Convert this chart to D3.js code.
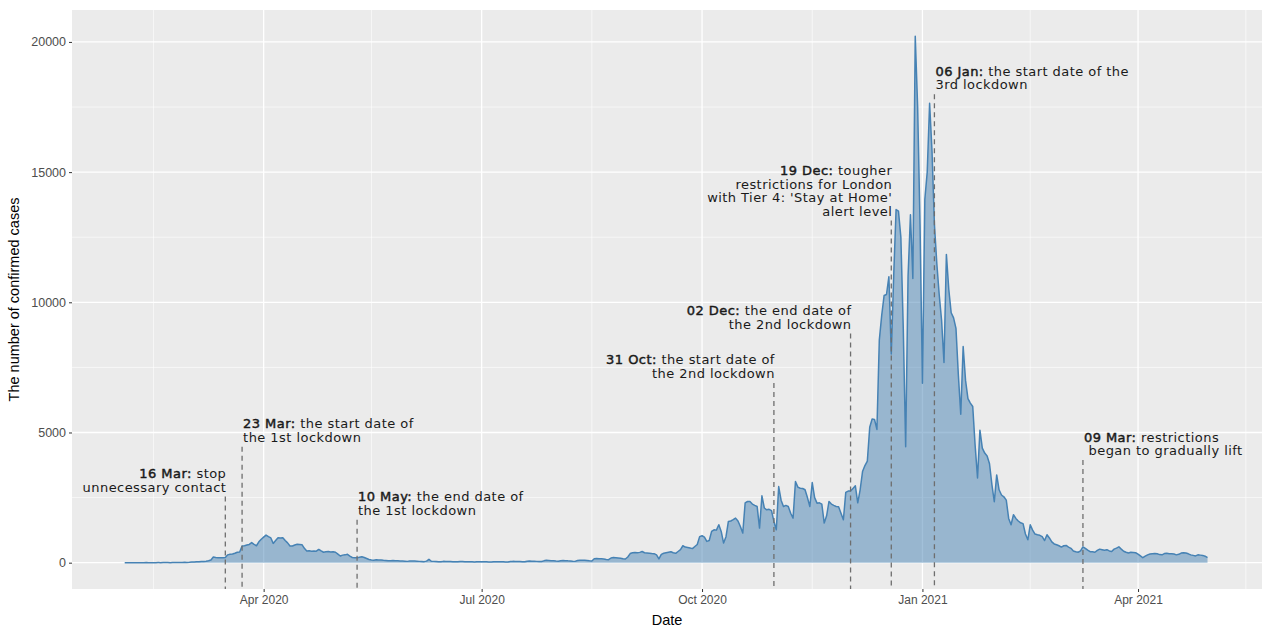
<!DOCTYPE html>
<html>
<head>
<meta charset="utf-8">
<script src="https://cdn.jsdelivr.net/npm/d3@7"></script>
<style>
  body { margin: 0; background: #fff; }
  .tick text { font-family: "Liberation Sans", Arial, sans-serif; }
</style>
</head>
<body>
<div class="chart"></div>
<script>
// daily confirmed cases, first day = startDate
const startDate = "2020-02-03";
const cases = [
  0,0,0,1,0,0,0,
  1,0,2,1,1,0,1,
  2,1,2,3,2,1,3,
  4,6,7,9,12,10,14,
  22,26,32,40,48,42,55,
  75,100,215,200,190,185,190,
  200,300,320,330,360,400,410,
  640,650,680,700,770,700,650,
  800,900,980,1060,1000,950,740,
  850,960,950,960,850,760,640,
  640,680,710,700,690,550,450,
  460,440,450,440,510,450,400,
  420,430,410,420,400,330,255,
  290,300,320,250,200,190,185,
  210,230,200,160,120,100,95,
  110,105,100,90,85,75,70,
  80,75,70,65,60,55,50,
  65,60,60,55,50,45,40,
  60,128,55,50,45,40,38,
  50,48,45,42,40,35,34,
  45,42,40,38,36,32,30,
  40,38,36,35,33,30,28,
  38,36,35,34,32,28,26,
  45,50,48,45,42,38,36,
  55,60,58,55,50,45,42,
  70,90,85,75,70,60,55,
  75,80,78,70,65,55,50,
  85,90,95,90,80,70,65,
  150,160,155,150,140,120,115,
  180,200,190,180,170,150,140,
  220,350,380,390,380,396,430,
  380,370,360,350,345,300,145,
  320,360,380,400,420,380,360,
  430,500,650,600,580,560,540,
  620,700,1000,1034,980,817,850,
  1200,1264,1250,1456,1200,753,1000,
  1583,1600,1650,1711,1600,1392,1136,
  2300,2350,2350,2250,2200,2158,1328,
  2567,2100,2030,2050,2000,1583,1264,
  2924,2400,2158,2200,2158,1900,1711,
  3116,2900,2860,2850,2800,2500,2158,
  3078,2500,2286,2300,2250,1520,1800,
  2350,2250,2200,2158,2150,1900,1647,
  2700,2750,2750,2850,2950,2300,2800,
  3500,3730,3900,5200,5515,5500,5117,
  8545,9500,10260,10300,10985,8016,11000,
  13560,13500,12500,9000,4455,11000,13360,
  10915,20215,17500,13000,6890,13950,15000,
  17645,15800,13000,11500,10300,9300,7690,
  11840,10500,9600,9400,9000,7200,5700,
  8300,7000,6300,6130,6000,4500,3255,
  5090,4400,4210,4100,3800,3000,2340,
  3370,2800,2600,2530,2400,1700,1455,
  1840,1700,1600,1530,1500,1100,880,
  1455,1250,1100,1070,1050,1000,850,
  1070,950,800,720,690,650,600,
  650,660,600,550,450,420,400,
  450,610,550,480,420,420,400,
  470,520,500,480,500,450,430,
  520,560,610,520,440,400,370,
  400,390,380,330,260,190,250,
  300,330,345,350,340,310,300,
  350,360,345,340,330,300,320,
  370,380,370,340,300,280,260,
  300,290,280,250,190
];

// events
const eventDates = ["2020-03-16","2020-03-23","2020-05-10","2020-10-31","2020-12-02","2020-12-19","2021-01-06","2021-03-09"];
const eventTops = [2540, 4455, 1647, 6905, 8800, 13140, 17990, 3945];
const eventLabels = [
  ["16 Mar: stop", "unnecessary contact"],
  ["23 Mar: the start date of", "the 1st lockdown"],
  ["10 May: the end date of", "the 1st lockdown"],
  ["31 Oct: the start date of", "the 2nd lockdown"],
  ["02 Dec: the end date of", "the 2nd lockdown"],
  ["19 Dec: tougher", "restrictions for London", "with Tier 4: 'Stay at Home'", "alert level"],
  ["06 Jan: the start date of the", "3rd lockdown"],
  ["09 Mar: restrictions", " began to gradually lift"]
];
const eventAnchor = ["end","start","start","end","end","end","start","start"];

const xTicks = ["2020-04-01","2020-07-01","2020-10-01","2021-01-01","2021-04-01"];
const xMinor = ["2020-02-15","2020-05-16","2020-08-16","2020-11-16","2021-02-15","2021-05-16"];
const yTicks = [0, 5000, 10000, 15000, 20000];
const yMinor = [2500, 7500, 12500, 17500];

const parse = d3.timeParse("%Y-%m-%d");
const t0 = parse(startDate);
const data = cases.map((v, i) => ({date: d3.timeDay.offset(t0, i), value: v}));

const W = 1262, H = 628;
const panel = {left: 72, right: 1265, top: 10, bottom: 589};

const svg = d3.select(".chart")
  .append("svg")
    .attr("width", W)
    .attr("height", H);

const x = d3.scaleTime()
    .domain([parse("2020-01-12"), parse("2021-05-24")])
    .range([panel.left, panel.right]);

const y = d3.scaleLinear()
    .domain([-1011, 21226])
    .range([panel.bottom, panel.top]);

// panel background
svg.append("rect")
    .attr("x", panel.left)
    .attr("y", panel.top)
    .attr("width", panel.right - panel.left)
    .attr("height", panel.bottom - panel.top)
    .attr("fill", "#ebebeb");

const grid = svg.append("g").attr("stroke", "#fff");
grid.selectAll(".ymin").data(yMinor).join("line")
    .attr("x1", panel.left).attr("x2", panel.right)
    .attr("y1", d => y(d)).attr("y2", d => y(d))
    .attr("stroke-width", 0.6);
grid.selectAll(".xmin").data(xMinor).join("line")
    .attr("x1", d => x(parse(d))).attr("x2", d => x(parse(d)))
    .attr("y1", panel.top).attr("y2", panel.bottom)
    .attr("stroke-width", 0.6);
grid.selectAll(".ymaj").data(yTicks).join("line")
    .attr("x1", panel.left).attr("x2", panel.right)
    .attr("y1", d => y(d)).attr("y2", d => y(d))
    .attr("stroke-width", 1.3);
grid.selectAll(".xmaj").data(xTicks).join("line")
    .attr("x1", d => x(parse(d))).attr("x2", d => x(parse(d)))
    .attr("y1", panel.top).attr("y2", panel.bottom)
    .attr("stroke-width", 1.3);

// area + line
const area = d3.area()
    .x(d => x(d.date))
    .y0(y(0))
    .y1(d => y(d.value));
const line = d3.line()
    .x(d => x(d.date))
    .y(d => y(d.value));

svg.append("path")
    .datum(data)
    .attr("d", area)
    .attr("fill", "steelblue")
    .attr("fill-opacity", 0.5);
svg.append("path")
    .datum(data)
    .attr("d", line)
    .attr("fill", "none")
    .attr("stroke", "steelblue")
    .attr("stroke-width", 1.5)
    .attr("stroke-linejoin", "round");

// event lines + labels
const events = eventDates.map((d, i) => ({
  date: parse(d), top: eventTops[i], lines: eventLabels[i], anchor: eventAnchor[i]
}));

svg.append("g").selectAll("line").data(events).join("line")
    .attr("x1", d => x(d.date)).attr("x2", d => x(d.date))
    .attr("y1", d => y(d.top)).attr("y2", panel.bottom)
    .attr("stroke", "#6e6e6e")
    .attr("stroke-width", 1.3)
    .attr("stroke-dasharray", "5,4");

const lh = 13.4;
const labels = svg.append("g")
    .attr("font-family", "'DejaVu Sans', Verdana, sans-serif")
    .attr("font-size", "13px")
    .attr("fill", "#1a1a1a")
    .attr("letter-spacing", "0.45px")
    .selectAll("text").data(events).join("text")
    .attr("text-anchor", d => d.anchor)
    .attr("xml:space", "preserve");

labels.each(function(d) {
  const t = d3.select(this);
  const n = d.lines.length;
  const xx = x(d.date) + 1;
  const yBase = y(d.top) - 5 - (n - 1) * lh;
  d.lines.forEach((s, k) => {
    const ts = t.append("tspan").attr("x", xx).attr("y", yBase + k * lh);
    if (k === 0) {
      // date part drawn slightly heavier
      const c = s.indexOf(":") + 1;
      ts.append("tspan")
        .attr("stroke", "#1a1a1a")
        .attr("stroke-width", 0.45)
        .text(s.slice(0, c));
      ts.append("tspan").text(s.slice(c));
    } else {
      ts.text(s);
    }
  });
});

// axes
const xAxis = svg.append("g")
    .attr("transform", `translate(0,${panel.bottom})`)
    .call(d3.axisBottom(x)
      .tickValues(xTicks.map(parse))
      .tickFormat(d3.timeFormat("%b %Y"))
      .tickSize(3)
      .tickPadding(3));
xAxis.select(".domain").remove();
xAxis.selectAll(".tick line").attr("stroke", "#333");
xAxis.selectAll(".tick text").attr("fill", "#4d4d4d").attr("font-size", "12px");

const yAxis = svg.append("g")
    .attr("transform", `translate(${panel.left},0)`)
    .call(d3.axisLeft(y)
      .tickValues(yTicks)
      .tickFormat(d3.format("d"))
      .tickSize(3)
      .tickPadding(3));
yAxis.select(".domain").remove();
yAxis.selectAll(".tick line").attr("stroke", "#333");
yAxis.selectAll(".tick text").attr("fill", "#4d4d4d").attr("font-size", "12.5px");

// axis titles
svg.append("text")
    .attr("x", (panel.left + 1262) / 2)
    .attr("y", 625)
    .attr("text-anchor", "middle")
    .attr("font-family", "'Liberation Sans', Arial, sans-serif")
    .attr("font-size", "14.5px")
    .attr("fill", "#000")
    .text("Date");

svg.append("text")
    .attr("transform", `translate(19,${(panel.top + panel.bottom) / 2}) rotate(-90)`)
    .attr("text-anchor", "middle")
    .attr("font-family", "'Liberation Sans', Arial, sans-serif")
    .attr("font-size", "14.5px")
    .attr("fill", "#000")
    .text("The number of confirmed cases");
</script>
</body>
</html>
